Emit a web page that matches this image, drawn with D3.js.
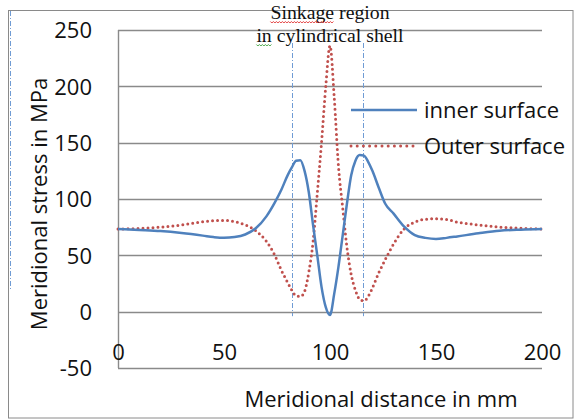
<!DOCTYPE html>
<html>
<head>
<meta charset="utf-8">
<script src="https://cdn.jsdelivr.net/npm/d3@7"></script>
<style>
  html, body { margin: 0; padding: 0; background: #fff; }
  svg { display: block; }
</style>
</head>
<body>
<svg id="chart" width="574" height="419"></svg>
<script>
// Meridional distance (mm) at which both stress profiles are sampled
const distance = [0, 10, 20, 30, 40, 45, 50, 55, 60, 65, 70, 74, 77, 80, 82, 84, 86, 88, 90,
  92, 94, 96, 98, 100, 102, 104, 106, 108, 110, 112, 114, 116, 118, 120, 123, 126, 130,
  135, 140, 145, 150, 155, 160, 170, 180, 190, 200];

// Meridional stress (MPa) on the inner surface
const innerSurface = [73.4, 72.5, 71.5, 69.8, 67.5, 66.2, 65.5, 66.2, 68.5, 74, 84.6, 97, 108, 121, 128, 134, 134.5, 125, 106,
  77, 50, 22, 4, -3, 16, 40, 68, 96, 121, 134, 139, 138.5, 133, 125, 110, 96, 87,
  75.5, 68, 65.5, 64.5, 65.5, 66.8, 69.5, 71.8, 72.8, 73.4];

// Meridional stress (MPa) on the outer surface
const outerSurface = [73.4, 73.8, 75, 77, 79.8, 80.8, 81, 80, 77, 71.8, 62.4, 50, 37, 26, 19, 14, 13.5, 18, 35,
  62, 105, 150, 200, 236, 190, 129, 92, 57, 33, 19, 11, 9.5, 13.5, 21, 34.5, 46, 60,
  73.5, 79.5, 82, 82.5, 81.8, 79.5, 77, 75, 74, 73.4];

const seriesNames = ["inner surface", "Outer surface"];
const xTicks = [0, 50, 100, 150, 200];
const yTicks = [-50, 0, 50, 100, 150, 200, 250];
// Edges of the sinkage region (mm)
const regionEdges = [82, 115.5];
const regionLabel = ["Sinkage region", "in cylindrical shell"];

const svg = d3.select("#chart");
const sansFont = "'Open Sans', 'DejaVu Sans', sans-serif";
const serifFont = "'Liberation Serif', 'DejaVu Serif', serif";
const blue = "#4f81bd";
const red = "#c0504d";
const gridColor = "#8a8a8a";
const plainNumber = d => String(d);   // keeps an ASCII hyphen on negatives

const x = d3.scaleLinear().domain([0, 200]).range([118, 542]);
const y = d3.scaleLinear().domain([-50, 250]).range([368, 30]);

// Outer chart frame
svg.append("rect")
  .attr("x", 8.5).attr("y", 10.5).attr("width", 564.5).attr("height", 407.5)
  .attr("fill", "none").attr("stroke", gridColor).attr("stroke-width", 1);

// Drawing guide at the left edge of the frame
svg.append("line")
  .attr("x1", 10.5).attr("x2", 10.5).attr("y1", 11).attr("y2", 290)
  .attr("stroke", "#6f9bd4").attr("stroke-width", 1)
  .attr("stroke-dasharray", "5 2 1 2");

// Horizontal gridlines
svg.append("g")
  .selectAll("line")
  .data(yTicks)
  .join("line")
  .attr("x1", x(0)).attr("x2", x(200))
  .attr("y1", d => Math.round(y(d)) + 0.5).attr("y2", d => Math.round(y(d)) + 0.5)
  .attr("stroke", gridColor).attr("stroke-width", 1.4);

// Value axis line
svg.append("line")
  .attr("x1", x(0) + 0.5).attr("x2", x(0) + 0.5)
  .attr("y1", y(250)).attr("y2", y(-50))
  .attr("stroke", gridColor).attr("stroke-width", 1.4);

// Y tick labels
const yAxis = d3.axisLeft(y).tickValues(yTicks).tickFormat(plainNumber).tickSize(0).tickPadding(26);
const gy = svg.append("g").attr("transform", `translate(${x(0)},0)`).call(yAxis);
gy.select(".domain").remove();
gy.selectAll("text")
  .attr("font-family", sansFont).attr("font-size", 22).attr("fill", "#111")
  .attr("dy", "0.36em");

// X tick labels (placed inside the plot, just above its lower edge)
const xAxis = d3.axisBottom(x).tickValues(xTicks).tickFormat(plainNumber).tickSize(0).tickPadding(0);
const gx = svg.append("g").attr("transform", `translate(0,${y(-50) - 24})`).call(xAxis);
gx.select(".domain").remove();
gx.selectAll("text")
  .attr("font-family", sansFont).attr("font-size", 22).attr("fill", "#111")
  .attr("dy", "0.71em");

// Sinkage region boundaries
svg.append("g")
  .selectAll("line")
  .data(regionEdges)
  .join("line")
  .attr("x1", d => Math.round(x(d)) + 0.5).attr("x2", d => Math.round(x(d)) + 0.5)
  .attr("y1", 43).attr("y2", y(-4))
  .attr("stroke", "#6f9bd4").attr("stroke-width", 1)
  .attr("stroke-dasharray", "5 2 1 2");

// Stress profiles
const points = (vals) => distance.map((d, i) => [d, vals[i]]);
const line = d3.line()
  .x(d => x(d[0]))
  .y(d => y(d[1]))
  .curve(d3.curveMonotoneX);

svg.append("path")
  .datum(points(outerSurface))
  .attr("d", line)
  .attr("fill", "none").attr("stroke", red).attr("stroke-width", 3)
  .attr("stroke-linecap", "round").attr("stroke-dasharray", "0 5");

svg.append("path")
  .datum(points(innerSurface))
  .attr("d", line)
  .attr("fill", "none").attr("stroke", blue).attr("stroke-width", 2.5)
  .attr("stroke-linejoin", "round");

// Legend
const legend = svg.append("g");
const legendRows = [
  { name: seriesNames[0], color: blue, dash: null, width: 2.5, cap: "butt", ly: 110 },
  { name: seriesNames[1], color: red, dash: "0 6.2", width: 3, cap: "round", ly: 146 }
];
legendRows.forEach(r => {
  legend.append("line")
    .attr("x1", 351).attr("x2", 417).attr("y1", r.ly).attr("y2", r.ly)
    .attr("stroke", r.color).attr("stroke-width", r.width)
    .attr("stroke-linecap", r.cap)
    .attr("stroke-dasharray", r.dash);
  legend.append("text")
    .attr("x", 424).attr("y", r.ly + 8)
    .attr("font-family", sansFont).attr("font-size", 22).attr("fill", "#111")
    .text(r.name);
});

// Axis titles
svg.append("text")
  .attr("x", 381).attr("y", 407)
  .attr("text-anchor", "middle")
  .attr("font-family", sansFont).attr("font-size", 22).attr("fill", "#111")
  .text("Meridional distance in mm");

svg.append("text")
  .attr("transform", "translate(46.5,204) rotate(-90)")
  .attr("text-anchor", "middle")
  .attr("font-family", sansFont).attr("font-size", 22).attr("fill", "#111")
  .text("Meridional stress in MPa");

// Region annotation
const note = svg.append("g");
const noteLines = [
  { text: regionLabel[0], y: 19 },
  { text: regionLabel[1], y: 41.5 }
];
noteLines.forEach(l => {
  note.append("text")
    .attr("x", 330).attr("y", l.y)
    .attr("text-anchor", "middle")
    .attr("font-family", serifFont).attr("font-size", 19.8).attr("fill", "#111")
    .text(l.text);
});

// Proofing squiggles under the first word of each annotation line
function squiggle(x0, x1, yy, color) {
  const pts = [];
  for (let px = x0, k = 0; px <= x1; px += 1.5, k++) pts.push([px, yy + (k % 2 ? 1 : -0.5)]);
  note.append("path")
    .attr("d", d3.line()(pts))
    .attr("fill", "none").attr("stroke", color).attr("stroke-width", 0.9);
}
const texts = note.selectAll("text").nodes();
const startOf = (node) => node.getStartPositionOfChar(0).x;
const firstWordWidth = (node, word) => {
  const n = word.length;
  return node.getEndPositionOfChar(n - 1).x - node.getStartPositionOfChar(0).x;
};
squiggle(startOf(texts[0]), startOf(texts[0]) + firstWordWidth(texts[0], "Sinkage"), 22, "#e03030");
squiggle(startOf(texts[1]), startOf(texts[1]) + firstWordWidth(texts[1], "in"), 45, "#3aa03a");
</script>
</body>
</html>
